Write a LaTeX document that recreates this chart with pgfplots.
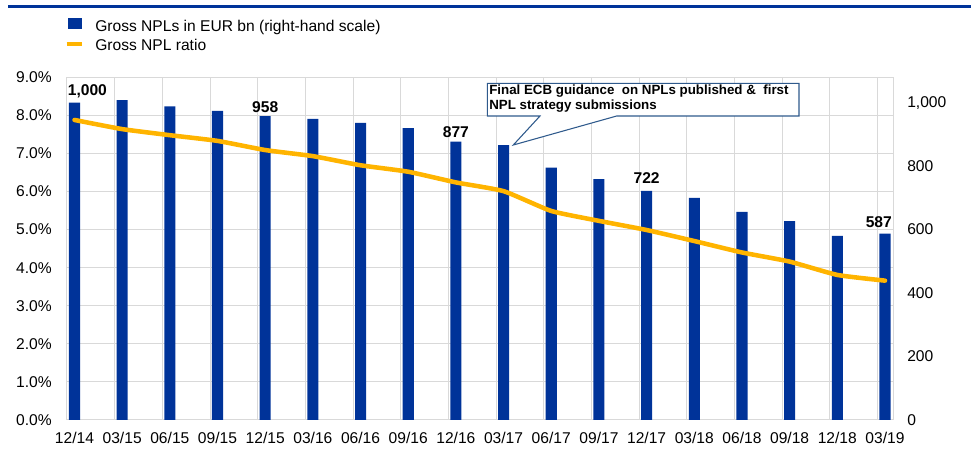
\documentclass[border=0pt]{standalone}
\usepackage{pgfplots}
\usepackage{pgfplotstable}
\pgfplotsset{compat=1.18}
\usepackage{fontspec}
\setmainfont{Liberation Sans}
\definecolor{ecbblue}{HTML}{003399}
\definecolor{ecbyellow}{HTML}{FFB400}
\definecolor{gridgray}{HTML}{D9D9D9}
\definecolor{boxblue}{HTML}{2F5A8C}

\pgfplotstableread{
x npl ratio
0 1000 7.88
1 1008 7.64
2 988 7.48
3 974 7.33
4 958 7.09
5 949 6.93
6 936 6.69
7 920 6.52
8 877 6.24
9 866 6.01
10 795 5.49
11 759 5.23
12 722 4.99
13 700 4.70
14 656 4.40
15 627 4.16
16 580 3.81
17 587 3.66
}\datatable

\newcommand{\tickfont}{\fontsize{11.7}{14}\selectfont}

\begin{document}
\begin{tikzpicture}[x=0.75pt,y=0.75pt]
\useasboundingbox (0,0) rectangle (971,464);
\pgfplotsset{
  myaxis/.style={
    at={(50.25pt,33pt)}, anchor=south west, scale only axis,
    width=619.5pt, height=257.025pt,
    xmin=-0.157, xmax=17.168,
    /pgf/number format/assume math mode=true,
    tick label style={font=\tickfont},
    major tick length=0pt, minor tick length=0pt,
  }
}
% grid + left axis
\begin{axis}[myaxis,
  ymin=0, ymax=9, ytick={0,1,...,9},
  yticklabel={\pgfmathprintnumber[fixed,fixed zerofill,precision=1]{\tick}\%},
  xtick={0,1,...,17},
  xticklabels={12/14,03/15,06/15,09/15,12/15,03/16,06/16,09/16,12/16,03/17,06/17,09/17,12/17,03/18,06/18,09/18,12/18,03/19},
  minor xtick={0.843,1.843,2.843,3.843,4.843,5.843,6.843,7.843,8.843,9.843,10.843,11.843,12.843,13.843,14.843,15.843,16.843},
  ymajorgrids, xminorgrids,
  major grid style={draw=gridgray, line width=0.75pt},
  minor grid style={draw=gridgray, line width=0.75pt},
  axis line style={draw=gridgray, line width=0.75pt},
  yticklabel style={anchor=east, inner sep=0pt, xshift=-11.25pt},
  xticklabel style={anchor=base, inner sep=0pt, yshift=-17.3pt},
]
\end{axis}
% bars, right axis
\begin{axis}[myaxis,
  ymin=0, ymax=1080, ytick={0,200,...,1000},
  axis y line*=right, axis x line=none,
  axis line style={draw=none},
  /pgf/number format/1000 sep={,},
  yticklabel style={anchor=west, inner sep=0pt, xshift=10.5pt},
  clip=false,
]
\addplot[ybar, bar width=8.3pt, fill=ecbblue, draw=none] table[x=x,y=npl]{\datatable};
\node[anchor=base, inner sep=0pt, font=\bfseries\tickfont] at (axis cs:0.27,1024) {1,000};
\node[anchor=base, inner sep=0pt, font=\bfseries\tickfont] at (axis cs:4,970) {958};
\node[anchor=base, inner sep=0pt, font=\bfseries\tickfont] at (axis cs:8,891) {877};
\node[anchor=base, inner sep=0pt, font=\bfseries\tickfont] at (axis cs:12,746) {722};
\node[anchor=base, inner sep=0pt, font=\bfseries\tickfont] at (axis cs:16.87,607) {587};
\end{axis}
% line, left scale
\begin{axis}[myaxis, ymin=0, ymax=9, hide axis, clip=false]
\addplot[ecbyellow, line width=3.4pt, line cap=round, line join=round, smooth, tension=0.3] table[x=x,y=ratio]{\datatable};
\end{axis}

% callout
\draw[boxblue, line width=0.8pt, fill=white]
  (487.3,348) -- (540,348) -- (513.3,319) -- (616.7,348) -- (799,348) -- (799,380.7) -- (487.3,380.7) -- cycle;
\node[anchor=base west, inner sep=0pt, font=\bfseries\fontsize{10}{12}\selectfont] at (489,369) {Final ECB guidance\ \ on NPLs published \&\ \ first};
\node[anchor=base west, inner sep=0pt, font=\bfseries\fontsize{10}{12}\selectfont] at (489,354.7) {NPL strategy submissions};

% top rule
\draw[ecbblue, line width=2pt] (8,457.7) -- (971,457.7);

% legend
\fill[ecbblue] (68,435) rectangle (82,446.3);
\draw[ecbyellow, line width=3.3pt] (66.7,420.2) -- (82.3,420.2);
\node[anchor=base west, inner sep=0pt, font=\tickfont] at (95,432.3) {Gross NPLs in EUR bn (right-hand scale)};
\node[anchor=base west, inner sep=0pt, font=\tickfont] at (95,413) {Gross NPL ratio};
\end{tikzpicture}
\end{document}
